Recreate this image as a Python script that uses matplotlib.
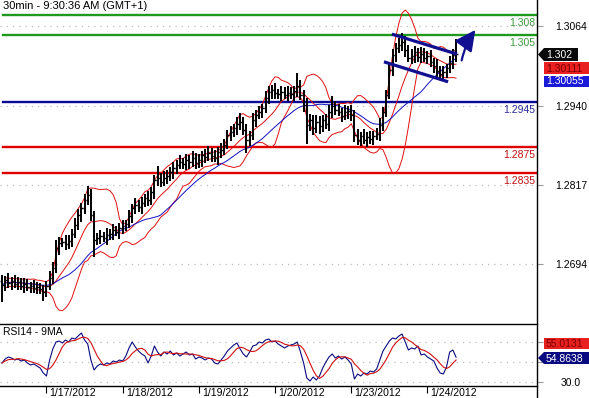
import numpy as np
import pandas as pd
import matplotlib
matplotlib.use("Agg")
import matplotlib.pyplot as plt
from matplotlib.patches import Rectangle, Polygon
from matplotlib.lines import Line2D
from matplotlib.transforms import blended_transform_factory

plt.rcParams['font.family'] = ['Liberation Sans', 'DejaVu Sans']

# --- 30 min EUR/USD, resampled to hourly bars (16 Jan 10:00 -> 24 Jan 09:00) ---
first_open = 1.2668
closes = [
    # 1/16
    1.2661, 1.2669, 1.2665, 1.2668, 1.2663, 1.2666, 1.2660, 1.2663, 1.2658, 1.2660, 1.2657, 1.2658, 1.2655, 1.2651,
    # 1/17
    1.2660, 1.2672, 1.2688, 1.2719, 1.2727, 1.2728, 1.2725, 1.2730, 1.2741, 1.2755, 1.2770, 1.2781,
    1.2793, 1.2801, 1.2770, 1.2731, 1.2734, 1.2738, 1.2734, 1.2739, 1.2741, 1.2747, 1.2744, 1.2750,
    # 1/18
    1.2753, 1.2756, 1.2769, 1.2781, 1.2786, 1.2782, 1.2789, 1.2797, 1.2793, 1.2806, 1.2824, 1.2828,
    1.2821, 1.2828, 1.2831, 1.2837, 1.2843, 1.2848, 1.2852, 1.2849, 1.2856, 1.2852, 1.2859, 1.2851,
    # 1/19
    1.2856, 1.2863, 1.2860, 1.2866, 1.2862, 1.2859, 1.2868, 1.2871, 1.2879, 1.2894, 1.2899, 1.2905,
    1.2911, 1.2915, 1.2902, 1.2887, 1.2894, 1.2918, 1.2925, 1.2930, 1.2936, 1.2952, 1.2961, 1.2964,
    # 1/20
    1.2960, 1.2958, 1.2961, 1.2956, 1.2960, 1.2958, 1.2963, 1.2970, 1.2956, 1.2941, 1.2910, 1.2918,
    1.2905, 1.2915, 1.2908, 1.2918, 1.2911, 1.2930, 1.2939, 1.2933, 1.2930, 1.2924, 1.2930, 1.2932,
    # 1/23
    1.2925, 1.2894, 1.2887, 1.2893, 1.2887, 1.2891, 1.2888, 1.2893, 1.2896, 1.2910, 1.2930, 1.2956,
    1.2995, 1.3019, 1.3029, 1.3034, 1.3039, 1.3026, 1.3014, 1.3017, 1.3023, 1.3015, 1.3020, 1.3014,
    # 1/24
    1.3017, 1.3008, 1.3001, 1.2994, 1.2989, 1.2992, 1.2998, 1.3006, 1.3019, 1.3020,
]
# wicks in pips above max(open, close) and below min(open, close)
wick_up = [
    9, 7, 11, 6, 9, 8, 6, 10, 7, 6, 9, 8, 6, 7,
    8, 11, 9, 12, 9, 7, 11, 9, 8, 11, 9, 7, 10, 14, 9, 6, 8, 9, 6, 11, 8, 9, 6, 8,
    9, 7, 9, 6, 11, 8, 9, 6, 11, 8, 9, 18, 8, 11, 9, 7, 9, 8, 11, 6, 9, 8, 11, 7,
    9, 6, 9, 11, 8, 9, 7, 11, 9, 8, 9, 7, 11, 13, 8, 9, 6, 11, 8, 9, 7, 11, 9, 8,
    11, 6, 9, 8, 11, 9, 7, 20, 9, 8, 11, 9, 7, 11, 9, 8, 9, 11, 16, 8, 9, 6, 11, 8,
    9, 8, 9, 6, 11, 8, 9, 7, 9, 11, 8, 9, 11, 9, 8, 11, 14, 9, 8, 11, 9, 7, 11, 9,
    8, 9, 6, 11, 8, 9, 7, 11, 9, 24,
]
wick_down = [
    26, 9, 8, 11, 6, 9, 7, 11, 6, 9, 8, 9, 7, 14,
    8, 6, 9, 8, 11, 6, 9, 7, 9, 6, 8, 11, 9, 7, 9, 26, 8, 9, 6, 11, 8, 9, 7, 11,
    9, 8, 6, 11, 9, 7, 11, 6, 9, 8, 11, 9, 7, 6, 9, 8, 11, 9, 6, 8, 9, 11, 7, 9,
    8, 11, 9, 6, 9, 7, 11, 9, 8, 6, 9, 7, 11, 9, 8, 20, 9, 8, 11, 6, 9, 7, 9, 11,
    9, 8, 11, 6, 9, 7, 11, 9, 8, 11, 30, 9, 11, 8, 12, 9, 7, 11, 9, 8, 6, 9, 7, 11,
    9, 11, 8, 9, 6, 11, 8, 9, 7, 11, 9, 8, 6, 9, 11, 8, 9, 11, 7, 9, 11, 8, 9, 7,
    9, 8, 11, 9, 7, 11, 9, 8, 9, 11,
]

# RSI(14), one value per bar
rsi_values = [
    49, 53, 55, 54, 52, 53, 51, 52, 49, 47, 48, 46, 44, 39,
    36, 52, 63, 70, 71, 69, 72, 70, 74, 73, 76, 79, 72, 68, 52, 42, 46, 48, 47, 49, 48, 51, 50, 52,
    51, 56, 64, 70, 65, 61, 58, 56, 49, 56, 66, 60, 56, 60, 58, 61, 57, 59, 56, 58, 60, 57, 58, 53,
    55, 54, 52, 54, 53, 49, 48, 52, 56, 61, 64, 67, 69, 63, 58, 55, 60, 66, 67, 70, 69, 72, 73, 70,
    71, 68, 66, 64, 66, 67, 68, 70, 60, 49, 34, 31, 35, 32, 36, 44, 50, 55, 58, 54, 56, 53, 55, 52,
    48, 33, 38, 36, 39, 38, 41, 40, 43, 52, 61, 66, 71, 74, 73, 76, 78, 70, 62, 64, 63, 66, 57, 58,
    55, 53, 51, 44, 39, 38, 45, 60, 62, 54.8638,
]

day_labels = ["1/17/2012", "1/18/2012", "1/19/2012", "1/20/2012", "1/23/2012", "1/24/2012"]
day_start_bars = [14, 38, 62, 86, 110, 134]

levels = [1.308, 1.305, 1.2945, 1.2875, 1.2835]
level_text = ["1.308", "1.305", "1.2945", "1.2875", "1.2835"]
level_colors = ["#1f9a1f", "#1f9a1f", "#0a0a96", "#e00000", "#e00000"]
level_text_colors = ["#3a9a3a", "#3a9a3a", "#2a2a9a", "#c01010", "#c01010"]

price_ticks = [1.3064, 1.2940, 1.2817, 1.2694]
rsi_ticks = [30, 50, 70]
rsi_tick_labels = ["30.0", "", ""]   # 50.0 and 70.0 sit under the value boxes

# hand drawn flag channel and breakout arrow (bar index, price)
channel_upper = [(122.8, 1.3051), (143.3, 1.3020)]
channel_lower = [(120.3, 1.3008), (140.5, 1.2977)]
arrow_from = (144.6, 1.3006)
arrow_to = (149.6, 1.3061)

# --- derived series ---
close = pd.Series(closes)
opens = pd.Series([first_open] + closes[:-1])
highs = np.maximum(opens, close) + np.array(wick_up) * 0.0001
lows = np.minimum(opens, close) - np.array(wick_down) * 0.0001
idx = np.arange(len(close))

bb_mid = close.rolling(10, min_periods=2).mean()
bb_std = close.rolling(10, min_periods=2).std(ddof=0)
bb_up = bb_mid + 2 * bb_std
bb_dn = bb_mid - 2 * bb_std
ma_long = close.rolling(22, min_periods=1).mean()

rsi = pd.Series(rsi_values)
rsi_ma = rsi.rolling(5, min_periods=1).mean()

# --- figure ---
W, H = 589, 398
fig = plt.figure(figsize=(W / 100, H / 100), dpi=100)


def fx(px):
    return px / W


def fy(py):
    return 1 - py / H


ax = fig.add_axes([0, fy(324), fx(537), 324 / H])
ax_rsi = fig.add_axes([0, fy(386), fx(537), 62 / H], sharex=ax)

ax.set_xlim(-0.63, 168.5)
ax.set_ylim(1.3104 - 0.0001553 * 324, 1.3104)
for s in ax.spines.values():
    s.set_visible(False)

ax.grid(axis='y', linestyle=(0, (1, 4)), color='#bdbdbd', lw=0.9)
ax.yaxis.tick_right()
ax.set_yticks(price_ticks)
ax.set_yticklabels([f"{t:.4f}" for t in price_ticks])
ax.tick_params(axis='y', length=4, color='#9a9a9a', pad=9, labelsize=7.5)
ax.tick_params(axis='x', bottom=False, labelbottom=False)

# levels
for lv, txt, c, tc in zip(levels, level_text, level_colors, level_text_colors):
    ax.axhline(lv, xmin=0.005, xmax=1, color=c, lw=1.7, zorder=2)
    ax.annotate(txt, xy=(1, lv), xycoords=('axes fraction', 'data'), xytext=(-2, -8),
                textcoords='offset pixels', ha='right', va='center', color=tc, fontsize=7.5)

# indicators
ax.plot(idx, bb_up, color='#e01010', lw=0.7, zorder=3)
ax.plot(idx, bb_mid, color='#e01010', lw=0.7, zorder=3)
ax.plot(idx, bb_dn, color='#e01010', lw=0.7, zorder=3)
ax.plot(idx, ma_long, color='#1010c0', lw=0.7, zorder=3)

# OHLC bars
ax.vlines(idx, lows, highs, color='black', lw=1.4, zorder=4)
ax.hlines(opens, idx - 0.5, idx, color='black', lw=1.0, zorder=4)
ax.hlines(close, idx, idx + 0.5, color='black', lw=1.0, zorder=4)

# flag channel and arrow
navy = '#101090'
for seg in (channel_upper, channel_lower):
    ax.plot([p[0] for p in seg], [p[1] for p in seg], color=navy, lw=2.3, solid_capstyle='butt', zorder=5)
ax.annotate("", xy=arrow_to, xytext=arrow_from,
            arrowprops=dict(arrowstyle='-|>,head_length=0.9,head_width=0.45', color=navy, lw=1.6,
                            mutation_scale=14, connectionstyle='arc3,rad=-0.12'), zorder=5)

# RSI panel
ax_rsi.set_ylim(26, 88)
for k in ('left', 'right'):
    ax_rsi.spines[k].set_visible(False)
for k in ('top', 'bottom'):
    ax_rsi.spines[k].set_color('black')
    ax_rsi.spines[k].set_linewidth(1.0)
ax_rsi.grid(axis='y', linestyle=(0, (1, 4)), color='#bdbdbd', lw=0.9)
ax_rsi.yaxis.tick_right()
ax_rsi.set_yticks(rsi_ticks)
ax_rsi.set_yticklabels(rsi_tick_labels)
ax_rsi.tick_params(axis='y', length=4, color='#9a9a9a', pad=13, labelsize=7.5)
ax_rsi.plot(idx, rsi, color='#0a0a80', lw=0.8)
ax_rsi.plot(idx, rsi_ma, color='#d01010', lw=0.8)
ax_rsi.set_xticks(day_start_bars)
ax_rsi.tick_params(axis='x', direction='out', length=5, color='black', labelbottom=False)
trans = blended_transform_factory(ax_rsi.transData, ax_rsi.transAxes)
for d, lab in zip(day_start_bars, day_labels):
    ax_rsi.text(d + 1.0, -0.03, lab, transform=trans, ha='left', va='top', fontsize=7.5)
ax_rsi.text(0.005, 0.87, "RSI14 - 9MA", transform=ax_rsi.transAxes, ha='left', va='center', fontsize=7.5)

fig.text(fx(3), fy(6), "30min - 9:30:36 AM (GMT+1)", ha='left', va='center', fontsize=8)

# right axis line over full height
fig.add_artist(Line2D([fx(537), fx(537)], [0, 1], color='black', lw=1.0, transform=fig.transFigure))


# value boxes on the right scale
def box(x0, y0, x1, y1, face, text, tcolor, pointed=False):
    if pointed:
        pts = [(x0, (y0 + y1) / 2), (x0 + 6, y0), (x1, y0), (x1, y1), (x0 + 6, y1)]
        patch = Polygon([(fx(a), fy(b)) for a, b in pts], closed=True, transform=fig.transFigure,
                        facecolor=face, edgecolor='none', zorder=10)
        tx = x0 + 8
    else:
        patch = Rectangle((fx(x0), fy(y1)), fx(x1 - x0), (y1 - y0) / H, transform=fig.transFigure,
                          facecolor=face, edgecolor='none', zorder=10)
        tx = x0 + 2
    fig.add_artist(patch)
    fig.text(fx(tx), fy((y0 + y1) / 2 + 0.5), text, color=tcolor, ha='left', va='center',
             fontsize=7.5, zorder=11)


box(538, 48, 578, 61, '#0a0a0a', "1.302", 'white', pointed=True)
box(544, 62, 589, 74, '#e82020', "1.30111", '#7a0000')
box(544, 75.5, 589, 86.5, '#1a1ad8', "1.30055", 'white')
box(544, 338, 589, 348.5, '#e82020', "55.0131", '#7a0000')
box(538, 352, 589, 364, '#0a0a80', "54.8638", 'white', pointed=True)

fig.savefig("out.png", dpi=100)
